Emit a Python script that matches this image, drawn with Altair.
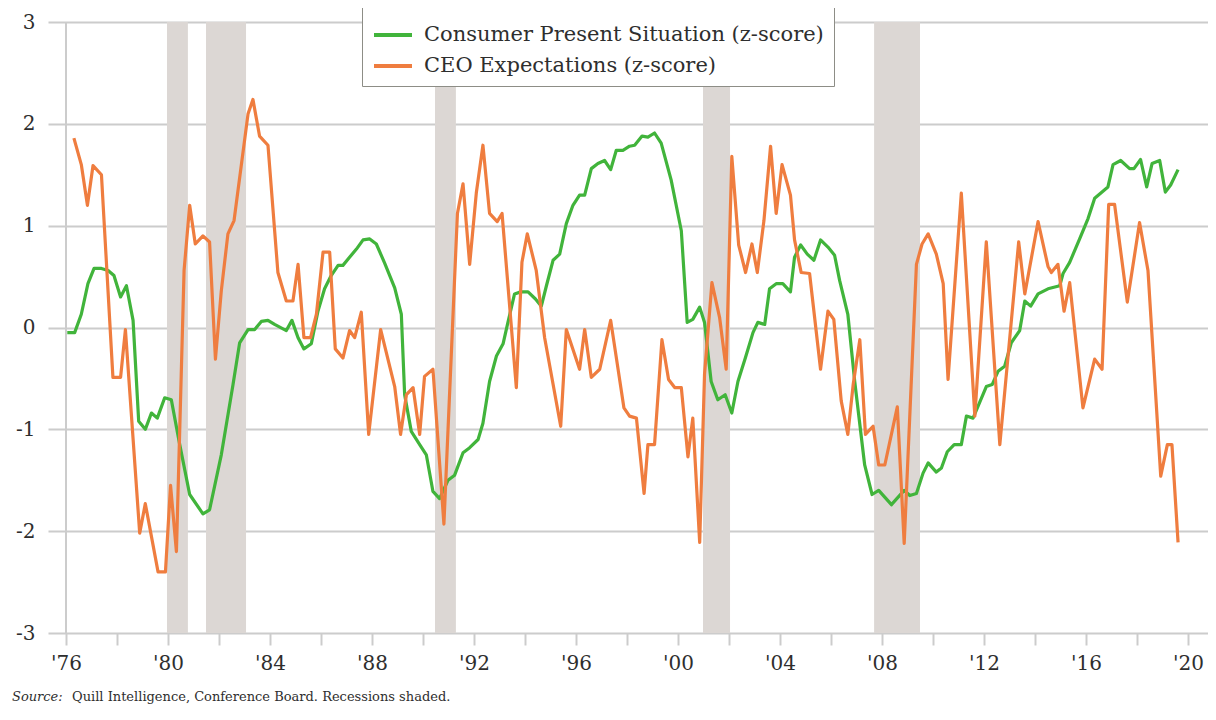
import altair as alt
import pandas as pd

# ---------------- data ----------------
series_names = ["Consumer Present Situation (z-score)", "CEO Expectations (z-score)"]
series_colors = ["#41b43b", "#ef7d3f"]

cps_year = [1976.05, 1976.34, 1976.6, 1976.86, 1977.1, 1977.39, 1977.65, 1977.88, 1978.14, 1978.37,
            1978.63, 1978.85, 1979.11, 1979.35, 1979.58, 1979.87, 1980.13, 1980.46, 1980.85, 1981.37,
            1981.63, 1982.09, 1982.55, 1982.81, 1983.14, 1983.40, 1983.66, 1983.92, 1984.18, 1984.64,
            1984.86, 1985.10, 1985.33, 1985.62, 1985.88, 1986.14, 1986.40, 1986.67, 1986.86, 1987.12,
            1987.39, 1987.65, 1987.91, 1988.17, 1988.5, 1988.89, 1989.15, 1989.28, 1989.54, 1989.87,
            1990.13, 1990.39, 1990.65, 1990.98, 1991.24, 1991.57, 1991.83, 1992.16, 1992.35, 1992.61,
            1992.88, 1993.14, 1993.33, 1993.59, 1993.83, 1994.12, 1994.41, 1994.64, 1994.84, 1995.10,
            1995.36, 1995.62, 1995.88, 1996.14, 1996.34, 1996.60, 1996.86, 1997.12, 1997.36, 1997.58,
            1997.84, 1998.10, 1998.30, 1998.59, 1998.82, 1999.08, 1999.34, 1999.73, 2000.13, 2000.36,
            2000.58, 2000.85, 2001.04, 2001.30, 2001.56, 2001.85, 2002.11, 2002.35, 2002.64, 2002.94,
            2003.13, 2003.40, 2003.59, 2003.85, 2004.11, 2004.41, 2004.57, 2004.81, 2005.07, 2005.33,
            2005.59, 2005.88, 2006.14, 2006.34, 2006.66, 2006.93, 2007.32, 2007.61, 2007.87, 2008.37,
            2008.87, 2009.09, 2009.35, 2009.61, 2009.81, 2010.13, 2010.33, 2010.56, 2010.83, 2011.11,
            2011.31, 2011.57, 2012.09, 2012.32, 2012.55, 2012.81, 2013.07, 2013.40, 2013.60, 2013.83,
            2014.12, 2014.51, 2014.97, 2015.10, 2015.36, 2015.75, 2016.08, 2016.34, 2016.86, 2017.06,
            2017.36, 2017.71, 2017.88, 2018.14, 2018.38, 2018.59, 2018.89, 2019.11, 2019.32, 2019.61]
cps_val = [-0.05, -0.05, 0.13, 0.43, 0.58, 0.58, 0.56, 0.51, 0.30, 0.41,
           0.07, -0.92, -1.00, -0.84, -0.89, -0.69, -0.71, -1.15, -1.64, -1.83,
           -1.79, -1.25, -0.56, -0.15, -0.02, -0.02, 0.06, 0.07, 0.03, -0.03,
           0.07, -0.10, -0.21, -0.16, 0.16, 0.38, 0.51, 0.61, 0.61, 0.69,
           0.77, 0.86, 0.87, 0.82, 0.63, 0.39, 0.13, -0.66, -1.02, -1.15,
           -1.25, -1.61, -1.68, -1.50, -1.45, -1.23, -1.18, -1.10, -0.94, -0.53,
           -0.28, -0.16, 0.05, 0.33, 0.35, 0.35, 0.28, 0.21, 0.41, 0.66,
           0.72, 1.02, 1.20, 1.30, 1.30, 1.56, 1.61, 1.64, 1.55, 1.74,
           1.74, 1.78, 1.79, 1.88, 1.87, 1.91, 1.81, 1.45, 0.95, 0.05,
           0.08, 0.20, 0.05, -0.53, -0.71, -0.66, -0.84, -0.53, -0.30, -0.05,
           0.05, 0.03, 0.38, 0.43, 0.43, 0.35, 0.69, 0.81, 0.72, 0.66,
           0.86, 0.79, 0.71, 0.46, 0.13, -0.53, -1.35, -1.64, -1.60, -1.74,
           -1.60, -1.65, -1.63, -1.43, -1.33, -1.42, -1.38, -1.22, -1.15, -1.15,
           -0.87, -0.89, -0.58, -0.56, -0.43, -0.38, -0.15, -0.03, 0.26, 0.21,
           0.33, 0.38, 0.41, 0.53, 0.64, 0.87, 1.07, 1.27, 1.38, 1.60,
           1.64, 1.56, 1.56, 1.65, 1.38, 1.61, 1.64, 1.33, 1.40, 1.55]

ceo_year = [1976.31, 1976.6, 1976.84, 1977.06, 1977.39, 1977.84, 1978.14, 1978.33, 1978.89, 1979.11,
            1979.61, 1979.9, 1980.1, 1980.33, 1980.63, 1980.85, 1981.07, 1981.37, 1981.63, 1981.86,
            1982.09, 1982.35, 1982.59, 1983.14, 1983.33, 1983.59, 1983.92, 1984.31, 1984.64, 1984.90,
            1985.10, 1985.33, 1985.59, 1985.82, 1986.08, 1986.34, 1986.56, 1986.86, 1987.12, 1987.32,
            1987.58, 1987.87, 1988.34, 1988.89, 1989.12, 1989.35, 1989.61, 1989.87, 1990.06, 1990.39,
            1990.82, 1991.35, 1991.57, 1991.83, 1992.09, 1992.35, 1992.61, 1992.91, 1993.10, 1993.66,
            1993.88, 1994.09, 1994.44, 1994.77, 1995.40, 1995.62, 1996.14, 1996.34, 1996.60, 1996.93,
            1997.36, 1997.88, 1998.10, 1998.37, 1998.67, 1998.82, 1999.08, 1999.37, 1999.63, 1999.87,
            2000.13, 2000.39, 2000.58, 2000.85, 2001.04, 2001.33, 2001.63, 2001.89, 2002.11, 2002.38,
            2002.65, 2002.90, 2003.11, 2003.37, 2003.63, 2003.85, 2004.08, 2004.41, 2004.57, 2004.83,
            2005.16, 2005.59, 2005.88, 2006.11, 2006.40, 2006.66, 2006.87, 2007.13, 2007.35, 2007.65,
            2007.87, 2008.11, 2008.60, 2008.87, 2009.35, 2009.57, 2009.81, 2010.13, 2010.40, 2010.59,
            2011.11, 2011.64, 2012.09, 2012.62, 2013.36, 2013.60, 2014.12, 2014.51, 2014.64, 2014.90,
            2015.14, 2015.36, 2015.88, 2016.34, 2016.63, 2016.89, 2017.12, 2017.62, 2018.10, 2018.43,
            2018.93, 2019.19, 2019.37, 2019.61]
ceo_val = [1.86, 1.60, 1.20, 1.59, 1.50, -0.49, -0.49, -0.02, -2.02, -1.73,
           -2.40, -2.40, -1.55, -2.20, 0.56, 1.20, 0.82, 0.90, 0.84, -0.31,
           0.36, 0.92, 1.05, 2.10, 2.24, 1.88, 1.79, 0.54, 0.26, 0.26,
           0.62, -0.10, -0.10, 0.13, 0.74, 0.74, -0.21, -0.30, -0.03, -0.10,
           0.15, -1.05, -0.02, -0.58, -1.05, -0.66, -0.59, -1.05, -0.48, -0.41,
           -1.93, 1.12, 1.41, 0.62, 1.32, 1.79, 1.12, 1.04, 1.12, -0.59,
           0.64, 0.92, 0.56, -0.10, -0.97, -0.02, -0.41, -0.02, -0.49, -0.41,
           0.07, -0.79, -0.87, -0.89, -1.63, -1.15, -1.15, -0.12, -0.51, -0.59,
           -0.59, -1.27, -0.89, -2.11, -0.46, 0.44, 0.10, -0.41, 1.68, 0.81,
           0.54, 0.82, 0.54, 1.05, 1.78, 1.12, 1.60, 1.30, 0.86, 0.54,
           0.53, -0.41, 0.16, 0.08, -0.72, -1.05, -0.56, -0.12, -1.05, -0.97,
           -1.35, -1.35, -0.78, -2.12, 0.62, 0.82, 0.92, 0.72, 0.43, -0.51,
           1.32, -0.87, 0.84, -1.15, 0.84, 0.33, 1.04, 0.60, 0.54, 0.62,
           0.16, 0.44, -0.79, -0.31, -0.41, 1.21, 1.21, 0.25, 1.03, 0.56,
           -1.46, -1.15, -1.15, -2.11]

rec_start = [1979.96, 1981.49, 1990.47, 2000.98, 2007.69]
rec_end = [1980.78, 1983.06, 1991.29, 2002.04, 2009.49]

x_ticks = list(range(1976, 2021, 2))
y_ticks = [-3, -2, -1, 0, 1, 2, 3]
source_label = "Source:"
source_rest = "Quill Intelligence,  Conference Board. Recessions shaded."

# ---------------- build tables ----------------
lines = pd.DataFrame({
    "year": cps_year + ceo_year,
    "value": cps_val + ceo_val,
    "series": [series_names[0]] * len(cps_year) + [series_names[1]] * len(ceo_year),
    "order": [0] * len(cps_year) + [1] * len(ceo_year),
})
rec = pd.DataFrame({"start": rec_start, "end": rec_end})

W, H = 1160, 611
FONT = "DejaVu Serif"
TXT = "#2e2e2e"
GRID = "#cccccc"

xscale = alt.Scale(domain=[1975.294, 2020.784], nice=False, zero=False)
yscale = alt.Scale(domain=[-3, 3], nice=False)

xaxis = alt.Axis(values=x_ticks, title=None, grid=False, domain=False,
                 ticks=True, tickSize=12, tickWidth=2, tickColor=GRID,
                 labelExpr="datum.value % 4 == 0 ? \"'\" + slice('0' + (datum.value % 100), -2) : ''",
                 labelFont=FONT, labelFontSize=20, labelColor=TXT, labelPadding=8,
                 labelFlush=False, labelOverlap=False)
yaxis = alt.Axis(values=y_ticks, title=None, grid=True, gridColor=GRID, gridWidth=2,
                 domain=False, ticks=False, labelFont=FONT, labelFontSize=20,
                 labelExpr="'' + datum.value",
                 labelColor=TXT, labelPadding=13, labelFlush=False, labelOverlap=False)

bands = alt.Chart(rec).mark_rect(color="#dcd7d4").encode(
    x=alt.X("start:Q", scale=xscale, axis=xaxis),
    x2="end:Q",
    y=alt.value(0),
    y2=alt.value(H),
)

yline = alt.Chart(pd.DataFrame({"year": [1976], "value": [0]})).mark_rule(color=GRID, strokeWidth=2).encode(
    x=alt.X("year:Q", scale=xscale, axis=xaxis),
    y=alt.value(0),
    y2=alt.value(H),
)

series_lines = alt.Chart(lines).mark_line(strokeWidth=3.2, strokeJoin="round").encode(
    x=alt.X("year:Q", scale=xscale, axis=xaxis),
    y=alt.Y("value:Q", scale=yscale, axis=yaxis),
    color=alt.Color("series:N",
                    scale=alt.Scale(domain=series_names, range=series_colors),
                    legend=alt.Legend(title=None, orient="none", legendX=314, legendY=-18,
                                      symbolType="stroke", symbolSize=1444, symbolStrokeWidth=4,
                                      labelFont=FONT, labelFontSize=21, labelColor=TXT,
                                      labelOffset=10, rowPadding=-13, padding=10,
                                      fillColor="white", strokeColor="#8d8d86",
                                      labelLimit=600)),
    detail="series:N",
    order="order:Q",
)

src1 = alt.Chart(pd.DataFrame({"t": [source_label]})).mark_text(
    align="left", baseline="alphabetic", font=FONT, fontSize=13, fontStyle="italic", color=TXT
).encode(text="t:N", x=alt.value(-36), y=alt.value(H + 68))

src2 = alt.Chart(pd.DataFrame({"t": [source_rest]})).mark_text(
    align="left", baseline="alphabetic", font=FONT, fontSize=13, color=TXT
).encode(text="t:N", x=alt.value(24), y=alt.value(H + 68))

chart = alt.layer(bands, yline, series_lines, src1, src2).properties(
    width=W, height=H,
    autosize=alt.AutoSizeParams(type="none"),
    padding={"left": 40, "top": 14, "right": 0, "bottom": 77},
    background="white",
).configure_view(stroke=None)

chart.save("out.html", embed_options={"renderer": "svg", "actions": False})
